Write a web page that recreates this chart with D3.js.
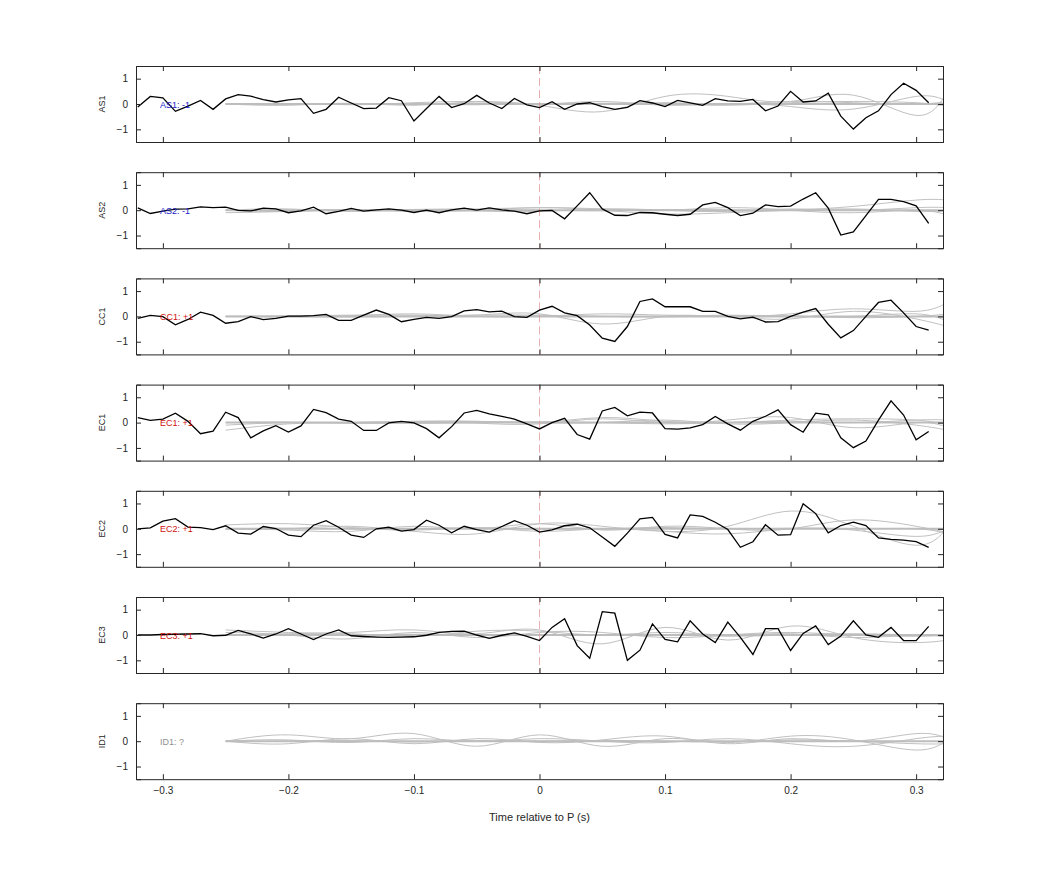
<!DOCTYPE html>
<html>
<head>
<meta charset="utf-8">
<script src="https://cdn.jsdelivr.net/npm/d3@7"></script>
<style>
body { margin: 0; background: #fff; }
text { font-family: "Liberation Sans", Arial, sans-serif; }
</style>
</head>
<body>
<svg width="1042" height="875"></svg>
<script>
// sample times of the black traces: -0.32 .. 0.31 step 0.01
var times = d3.range(64).map(function(i) { return Math.round((-0.32 + i * 0.01) * 100) / 100; });
// sample times of the gray traces
var grayTimes = [-0.25, -0.2, -0.15, -0.1, -0.05, 0, 0.05, 0.1, 0.15, 0.2, 0.25, 0.3, 0.325];

var channels = ["AS1", "AS2", "CC1", "EC1", "EC2", "EC3", "ID1"];
var labels = ["AS1: -1", "AS2: -1", "CC1: +1", "EC1: +1", "EC2: +1", "EC3: +1", "ID1: ?"];
var labelColors = ["#2020c8", "#2020c8", "#d01010", "#d01010", "#d01010", "#d01010", "#909090"];
var xTicks = [-0.3, -0.2, -0.1, 0, 0.1, 0.2, 0.3];
var yTicks = [-1, 0, 1];

var AS1 = [-0.12,0.3,0.24,-0.29,-0.08,0.14,-0.21,0.2,0.37,0.31,0.17,0.08,0.16,0.21,-0.37,-0.21,0.27,0.04,-0.18,-0.16,0.25,0.13,-0.67,-0.18,0.3,-0.14,0.01,0.34,0.04,-0.18,0.22,-0.03,
  -0.14,0.09,-0.21,0,0.05,-0.1,-0.21,-0.13,0.13,0.04,-0.1,0.14,0.04,-0.05,0.21,0.12,0.1,0.18,-0.27,-0.08,0.5,0.08,0.12,0.43,-0.48,-0.99,-0.54,-0.27,0.37,0.82,0.54,0.05];
var AS2 = [0.09,-0.13,-0.04,0.04,0.05,0.13,0.1,0.12,-0.01,-0.03,0.08,0.05,-0.1,-0.03,0.12,-0.14,-0.05,0.07,-0.04,0.01,0.05,0,-0.09,0,-0.1,0.01,0.08,0,0.09,0.01,-0.04,-0.14,
  -0.03,-0.01,-0.34,0.17,0.69,0.05,-0.2,-0.21,-0.09,-0.1,-0.16,-0.21,-0.16,0.21,0.31,0.1,-0.21,-0.12,0.21,0.14,0.16,0.44,0.69,0.08,-0.98,-0.86,-0.21,0.43,0.43,0.34,0.17,-0.52];
var CC1 = [-0.08,0.04,-0.01,-0.33,-0.12,0.17,0.04,-0.27,-0.21,-0.01,-0.13,-0.08,0.01,0.01,0.03,0.08,-0.16,-0.16,0.05,0.25,0.08,-0.21,-0.12,-0.04,-0.08,-0.01,0.22,0.27,0.18,0.21,-0.01,-0.04,
  0.25,0.4,0.14,0.03,-0.34,-0.86,-0.99,-0.4,0.59,0.69,0.38,0.38,0.38,0.2,0.2,0,-0.1,-0.03,-0.22,-0.21,0,0.17,0.31,-0.31,-0.85,-0.56,0,0.55,0.64,0.14,-0.4,-0.54];
var EC1 = [0.2,0.09,0.14,0.37,0.05,-0.44,-0.34,0.41,0.2,-0.6,-0.33,-0.12,-0.37,-0.13,0.52,0.39,0.14,0.05,-0.31,-0.31,-0.01,0.05,-0.01,-0.24,-0.6,-0.16,0.38,0.48,0.34,0.25,0.14,-0.05,
  -0.25,0,0.17,-0.47,-0.65,0.46,0.6,0.27,0.41,0.38,-0.24,-0.26,-0.21,-0.08,0.24,-0.05,-0.3,0.05,0.25,0.5,-0.08,-0.38,0.37,0.31,-0.6,-0.99,-0.73,0.1,0.86,0.3,-0.68,-0.35];
var EC2 = [0,0.04,0.3,0.4,0.07,0.05,-0.03,0.12,-0.17,-0.21,0.09,0.01,-0.25,-0.31,0.14,0.32,0.06,-0.25,-0.34,0,0.06,-0.09,-0.03,0.34,0.14,-0.16,0.1,-0.03,-0.13,0.09,0.32,0.14,
  -0.13,-0.04,0.12,0.18,0.04,-0.32,-0.69,-0.17,0.39,0.45,-0.22,-0.36,0.55,0.49,0.26,-0.03,-0.73,-0.51,0.16,-0.25,-0.23,0.99,0.6,-0.16,0.13,0.26,0.13,-0.36,-0.42,-0.45,-0.51,-0.73];
var EC3 = [0,0,0.02,0.03,0.04,0.05,-0.03,-0.01,0.18,0.04,-0.12,0.04,0.25,0.04,-0.18,0.04,0.2,-0.03,-0.06,-0.08,-0.09,-0.08,-0.07,-0.01,0.1,0.14,0.15,0,-0.13,-0.01,0.08,-0.05,
  -0.22,0.3,0.64,-0.42,-0.92,0.92,0.86,-1,-0.6,0.44,-0.17,-0.27,0.56,0.04,-0.3,0.51,-0.09,-0.77,0.25,0.25,-0.61,0.06,0.36,-0.38,-0.04,0.56,0,-0.09,0.3,-0.22,-0.22,0.34];
var blackSeries = [AS1, AS2, CC1, EC1, EC2, EC3, null];

// gray reference traces per panel (values at grayTimes)
var grayAS1 = [
  [0, 0.02, -0.03, 0.05, 0.1, -0.05, -0.3, 0.3, 0.3, 0.1, 0.35, -0.45, 0.5],
  [0, -0.05, 0.03, -0.05, 0.08, 0, 0.1, -0.05, 0.02, -0.1, -0.2, 0.3, 0.1],
  [0, 0.01, 0.02, 0, -0.03, 0.02, 0, 0.05, 0, 0.1, 0.05, 0, 0.1],
  [0, 0, -0.02, 0.02, 0, -0.02, 0.03, 0, -0.05, 0.05, 0.1, 0.05, -0.1]];
var grayAS2 = [
  [-0.1, -0.05, 0, -0.05, 0, 0.1, 0, -0.15, -0.1, 0, 0.15, 0.4, 0.4],
  [0, 0.05, -0.05, 0.03, 0.05, 0.1, 0.05, 0, 0.1, 0, -0.1, 0, -0.2],
  [0, -0.05, 0.02, 0, -0.03, -0.05, 0.05, 0, -0.05, 0.05, 0, 0.1, 0.1],
  [0, 0, 0.02, 0.02, 0, 0, -0.02, 0.03, 0, 0, 0.05, -0.05, 0]];
var grayCC1 = [
  [0, 0.02, 0.05, 0.05, 0.05, 0.1, -0.3, 0, 0, 0.1, 0.3, 0.2, 0.55],
  [0, 0, 0.03, 0.1, 0, 0, 0.1, 0.05, 0, -0.1, 0.2, -0.1, -0.4],
  [0, -0.02, 0, 0.02, 0.05, 0.05, 0, 0, 0.05, 0, 0, 0.1, -0.2],
  [0, 0, -0.02, 0, 0, 0.02, 0, -0.02, 0.03, 0.02, -0.05, 0, 0.1]];
var grayEC1 = [
  [-0.3, -0.05, 0, 0.05, 0.05, 0, 0.2, 0.05, 0, 0.1, 0.15, 0.1, -0.1],
  [-0.1, 0, 0, 0.05, -0.02, -0.05, 0.15, 0, 0.1, 0.2, -0.2, 0, -0.2],
  [0, 0.02, -0.03, 0, 0.05, 0, 0, 0.1, -0.05, 0, 0.1, -0.1, -0.3],
  [0, 0, 0, -0.03, 0, 0.03, 0, -0.05, 0, 0.05, 0, 0.1, 0.1]];
var grayEC2 = [
  [0.15, 0.2, 0.05, -0.1, -0.2, 0.2, 0.1, -0.1, 0.1, 0.7, 0.1, -0.65, 0.05],
  [0, -0.05, -0.1, 0.1, 0, 0.2, -0.05, 0.1, 0, 0, 0.35, 0.1, -0.15],
  [0, 0, 0.1, -0.05, 0.05, -0.1, 0, -0.1, -0.2, 0, -0.05, -0.3, 0],
  [0, 0.02, 0, 0, 0.03, 0, 0, 0.05, 0, 0.02, 0, 0, -0.2]];
var grayEC3 = [
  [0.2, 0.1, 0.1, 0.2, 0.05, 0.2, -0.35, 0.3, -0.2, 0.35, -0.1, -0.3, -0.2],
  [0.1, 0, -0.15, 0.1, -0.1, 0.1, 0.1, -0.1, 0, 0.1, 0, -0.05, 0],
  [0, 0.05, 0.05, -0.05, 0.15, 0.15, 0, 0.1, 0, 0.05, -0.1, 0, -0.1],
  [0, -0.02, 0, 0.03, 0, 0, 0.02, 0, -0.05, 0, 0.05, 0, 0]];
var grayID1 = [
  [0, 0.25, 0.1, 0.3, -0.2, 0.25, -0.2, 0.1, -0.05, 0.2, 0.05, -0.35, 0.05],
  [0, -0.1, 0.1, -0.1, 0.1, -0.05, 0.05, 0.2, -0.1, 0.1, 0, 0.3, 0.1],
  [0, 0.05, -0.05, 0.1, 0, 0.1, 0, -0.05, 0.1, -0.1, -0.2, 0.1, 0.2],
  [0, 0, 0.02, -0.03, 0.02, 0, 0.03, 0, -0.02, 0.05, 0, -0.1, -0.1]];
var graySeries = [grayAS1, grayAS2, grayCC1, grayEC1, grayEC2, grayEC3, grayID1];

var svg = d3.select("svg");
var left = 136, right = 943, top0 = 66, step = 106.2, ph = 76;

var x = d3.scaleLinear().domain([-0.3214, 0.3214]).range([left, right]);
var y = d3.scaleLinear().domain([-1.5, 1.5]).range([ph, 0]);

var blackLine = d3.line().x(function(d, i) { return x(times[i]); }).y(function(d) { return y(d); });
var grayLine = d3.line().x(function(d, i) { return x(grayTimes[i]); }).y(function(d) { return y(d); }).curve(d3.curveNatural);

channels.forEach(function(ch, k) {
    var g = svg.append("g").attr("transform", "translate(0," + (top0 + k * step) + ")");

    g.append("defs").append("clipPath").attr("id", "clip" + k)
        .append("rect").attr("x", left).attr("y", 0).attr("width", right - left).attr("height", ph);

    var plot = g.append("g").attr("clip-path", "url(#clip" + k + ")");

    graySeries[k].forEach(function(s) {
        plot.append("path").attr("d", grayLine(s))
            .attr("fill", "none").attr("stroke", "#c0c0c0").attr("stroke-width", 1);
    });
    // thick flat gray band near zero
    plot.append("line").attr("x1", x(-0.25)).attr("x2", x(0.3214))
        .attr("y1", y(0)).attr("y2", y(0)).attr("stroke", "#bdbdbd").attr("stroke-width", 2);

    if (blackSeries[k]) {
        plot.append("line").attr("x1", x(0)).attr("x2", x(0)).attr("y1", 0).attr("y2", ph)
            .attr("stroke", "#e39a9a").attr("stroke-dasharray", "8,4").attr("stroke-width", 0.8);
        plot.append("path").attr("d", blackLine(blackSeries[k]))
            .attr("fill", "none").attr("stroke", "#000").attr("stroke-width", 1.3);
    }

    // axes with inward ticks, MATLAB box style
    var ax = d3.axisBottom(x).tickValues(xTicks).tickSize(-5).tickPadding(8)
        .tickFormat(k === channels.length - 1 ? d3.format("") : "");
    var axT = d3.axisTop(x).tickValues(xTicks).tickSize(-5).tickFormat("");
    var ay = d3.axisLeft(y).tickValues(yTicks).tickSize(-5).tickPadding(8).tickFormat(d3.format("d"));
    var ayR = d3.axisRight(y).tickValues(yTicks).tickSize(-5).tickFormat("");

    [g.append("g").attr("transform", "translate(0," + ph + ")").call(ax),
     g.append("g").call(axT),
     g.append("g").attr("transform", "translate(" + left + ",0)").call(ay),
     g.append("g").attr("transform", "translate(" + right + ",0)").call(ayR)].forEach(function(a) {
        a.selectAll("path,line").attr("stroke", "#262626");
        a.selectAll("text").attr("fill", "#262626").attr("font-size", 10);
    });

    g.append("text").attr("x", 160).attr("y", y(0) + 3.5)
        .attr("font-size", 9).attr("fill", labelColors[k]).text(labels[k]);

    g.append("text").attr("transform", "translate(105," + (ph / 2) + ") rotate(-90)")
        .attr("text-anchor", "middle").attr("font-size", 9).attr("fill", "#262626").text(ch);
});

svg.append("text").attr("x", (left + right) / 2).attr("y", 821)
    .attr("text-anchor", "middle").attr("font-size", 11).attr("fill", "#262626")
    .text("Time relative to P (s)");
</script>
</body>
</html>
